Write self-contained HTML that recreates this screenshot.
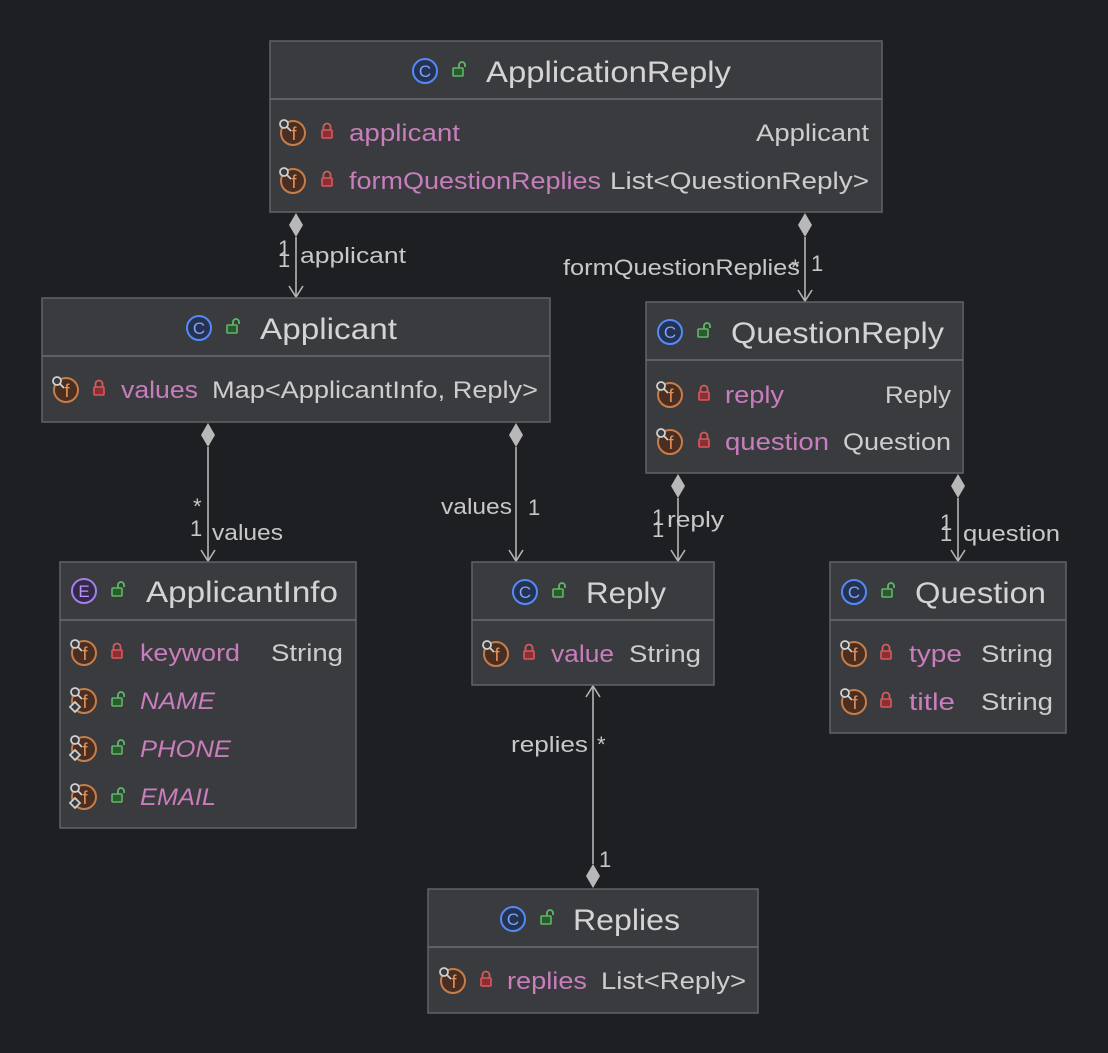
<!DOCTYPE html>
<html><head><meta charset="utf-8"><style>
html,body{margin:0;padding:0;background:#1e1f22;}
svg{display:block}
text{font-family:"Liberation Sans",sans-serif;}
.t{font-size:30px;fill:#d4d4d4}
.n{font-size:24px;fill:#c87dbd}
.i{font-style:italic}
.y{font-size:24px;fill:#cdcdcd}
.l{font-size:22px;fill:#c8c8c8}
.box{fill:#3a3b3e;stroke:#616366;stroke-width:1.5}
.div{stroke:#6a6c6f;stroke-width:1.5}
.ln{stroke:#b5b5b5;stroke-width:1.6;fill:none}
</style></head><body>
<svg width="1108" height="1053" viewBox="0 0 1108 1053" xmlns="http://www.w3.org/2000/svg">
<defs>
<g id="c"><circle r="12" fill="#253250" stroke="#548af7" stroke-width="2"/><text x="0" y="6" text-anchor="middle" font-size="17" fill="#7aa6ff" font-family="Liberation Sans">C</text></g>
<g id="e"><circle r="12" fill="#35294a" stroke="#a57ee8" stroke-width="2"/><text x="0" y="6" text-anchor="middle" font-size="17" fill="#b996f5" font-family="Liberation Sans">E</text></g>
<g id="f"><circle r="12" fill="#4a2e22" stroke="#c77d4a" stroke-width="2"/><text x="1" y="7" text-anchor="middle" font-size="18" fill="#e3955c" font-family="Liberation Sans">f</text><circle cx="-9" cy="-9" r="4" fill="#3a3b3e" stroke="#d0d0d0" stroke-width="1.8"/><line x1="-6" y1="-6" x2="-2" y2="-2" stroke="#d0d0d0" stroke-width="1.8"/></g>
<g id="fs"><use href="#f"/><path d="M-9 1 L-4 6 L-9 11 L-14 6Z" fill="#3a3b3e" stroke="#d0d0d0" stroke-width="1.8"/></g>
<g id="lr"><path d="M-3.5 -1 V-4 A3.5 3.5 0 0 1 3.5 -4 V-1" fill="none" stroke="#d9585c" stroke-width="1.8"/><rect x="-5" y="-1" width="10" height="8" rx="1" fill="#8a2f33" stroke="#d9585c" stroke-width="1.6"/></g>
<g id="lg"><path d="M1 -1 V-4 A3 3 0 0 1 7 -4 V-2" fill="none" stroke="#5fb865" stroke-width="1.8"/><rect x="-5" y="-1" width="10" height="8" rx="1" fill="#2b5a2f" stroke="#5fb865" stroke-width="1.6"/></g>
</defs>

<g class="ln">
<line x1="296" y1="237" x2="296" y2="297"/><polyline points="289,286 296,297 303,286"/>
<line x1="805" y1="237" x2="805" y2="301"/><polyline points="798,290 805,301 812,290"/>
<line x1="208" y1="447" x2="208" y2="561"/><polyline points="201,550 208,561 215,550"/>
<line x1="516" y1="447" x2="516" y2="561"/><polyline points="509,550 516,561 523,550"/>
<line x1="678" y1="498" x2="678" y2="561"/><polyline points="671,550 678,561 685,550"/>
<line x1="958" y1="498" x2="958" y2="561"/><polyline points="951,550 958,561 965,550"/>
<line x1="593" y1="686" x2="593" y2="864"/><polyline points="586,697 593,686 600,697"/>
</g>
<g fill="#b8b8b8">
<path d="M296 213 L303 225 L296 237 L289 225Z"/>
<path d="M805 213 L812 225 L805 237 L798 225Z"/>
<path d="M208 423 L215 435 L208 447 L201 435Z"/>
<path d="M516 423 L523 435 L516 447 L509 435Z"/>
<path d="M678 474 L685 486 L678 498 L671 486Z"/>
<path d="M958 474 L965 486 L958 498 L951 486Z"/>
<path d="M593 864 L600 876 L593 888 L586 876Z"/>
</g>
<g class="l" lengthAdjust="spacingAndGlyphs">
<text x="278" y="256">1</text><text x="278" y="267">1</text><text x="300" y="263" textLength="106" lengthAdjust="spacingAndGlyphs">applicant</text>
<text x="563" y="275" textLength="237" lengthAdjust="spacingAndGlyphs">formQuestionReplies</text><text x="791" y="275">*</text><text x="811" y="271">1</text>
<text x="193" y="514">*</text><text x="190" y="536">1</text><text x="212" y="540" textLength="71" lengthAdjust="spacingAndGlyphs">values</text>
<text x="441" y="514" textLength="71" lengthAdjust="spacingAndGlyphs">values</text><text x="528" y="515">1</text>
<text x="652" y="525">1</text><text x="652" y="537">1</text><text x="667" y="527" textLength="57" lengthAdjust="spacingAndGlyphs">reply</text>
<text x="940" y="530">1</text><text x="940" y="541">1</text><text x="963" y="541" textLength="97" lengthAdjust="spacingAndGlyphs">question</text>
<text x="511" y="752" textLength="77" lengthAdjust="spacingAndGlyphs">replies</text><text x="597" y="752">*</text><text x="599" y="867">1</text>
</g>

<!-- ApplicationReply -->
<rect class="box" x="270" y="41" width="612" height="171"/>
<line class="div" x1="270" y1="99" x2="882" y2="99"/>
<use href="#c" x="425" y="71"/><use href="#lg" x="458" y="69"/>
<text class="t" x="486" y="82" textLength="245" lengthAdjust="spacingAndGlyphs">ApplicationReply</text>
<use href="#f" x="293" y="133"/><use href="#lr" x="327" y="131"/>
<text class="n" x="349" y="141" textLength="111" lengthAdjust="spacingAndGlyphs">applicant</text><text class="y" x="756" y="141" textLength="113" lengthAdjust="spacingAndGlyphs">Applicant</text>
<use href="#f" x="293" y="181"/><use href="#lr" x="327" y="179"/>
<text class="n" x="349" y="189" textLength="252" lengthAdjust="spacingAndGlyphs">formQuestionReplies</text><text class="y" x="610" y="189" textLength="259" lengthAdjust="spacingAndGlyphs">List&lt;QuestionReply&gt;</text>

<!-- Applicant -->
<rect class="box" x="42" y="298" width="508" height="124"/>
<line class="div" x1="42" y1="356" x2="550" y2="356"/>
<use href="#c" x="199" y="328"/><use href="#lg" x="232" y="326"/>
<text class="t" x="260" y="339" textLength="137" lengthAdjust="spacingAndGlyphs">Applicant</text>
<use href="#f" x="66" y="390"/><use href="#lr" x="99" y="388"/>
<text class="n" x="121" y="398" textLength="77" lengthAdjust="spacingAndGlyphs">values</text><text class="y" x="212" y="398" textLength="326" lengthAdjust="spacingAndGlyphs">Map&lt;ApplicantInfo, Reply&gt;</text>

<!-- QuestionReply -->
<rect class="box" x="646" y="302" width="317" height="171"/>
<line class="div" x1="646" y1="360" x2="963" y2="360"/>
<use href="#c" x="670" y="332"/><use href="#lg" x="703" y="330"/>
<text class="t" x="731" y="343" textLength="213" lengthAdjust="spacingAndGlyphs">QuestionReply</text>
<use href="#f" x="670" y="395"/><use href="#lr" x="704" y="393"/>
<text class="n" x="725" y="403" textLength="59" lengthAdjust="spacingAndGlyphs">reply</text><text class="y" x="885" y="403" textLength="66" lengthAdjust="spacingAndGlyphs">Reply</text>
<use href="#f" x="670" y="442"/><use href="#lr" x="704" y="440"/>
<text class="n" x="725" y="450" textLength="104" lengthAdjust="spacingAndGlyphs">question</text><text class="y" x="843" y="450" textLength="108" lengthAdjust="spacingAndGlyphs">Question</text>

<!-- ApplicantInfo -->
<rect class="box" x="60" y="562" width="296" height="266"/>
<line class="div" x1="60" y1="620" x2="356" y2="620"/>
<use href="#e" x="84" y="591"/><use href="#lg" x="117" y="589"/>
<text class="t" x="146" y="602" textLength="192" lengthAdjust="spacingAndGlyphs">ApplicantInfo</text>
<use href="#f" x="84" y="653"/><use href="#lr" x="117" y="651"/>
<text class="n" x="140" y="661" textLength="100" lengthAdjust="spacingAndGlyphs">keyword</text><text class="y" x="271" y="661" textLength="72" lengthAdjust="spacingAndGlyphs">String</text>
<use href="#fs" x="84" y="701"/><use href="#lg" x="117" y="699"/>
<text class="n i" x="140" y="709" textLength="75" lengthAdjust="spacingAndGlyphs">NAME</text>
<use href="#fs" x="84" y="749"/><use href="#lg" x="117" y="747"/>
<text class="n i" x="140" y="757" textLength="91" lengthAdjust="spacingAndGlyphs">PHONE</text>
<use href="#fs" x="84" y="797"/><use href="#lg" x="117" y="795"/>
<text class="n i" x="140" y="805" textLength="76" lengthAdjust="spacingAndGlyphs">EMAIL</text>

<!-- Reply -->
<rect class="box" x="472" y="562" width="242" height="123"/>
<line class="div" x1="472" y1="620" x2="714" y2="620"/>
<use href="#c" x="525" y="592"/><use href="#lg" x="558" y="590"/>
<text class="t" x="586" y="603" textLength="80" lengthAdjust="spacingAndGlyphs">Reply</text>
<use href="#f" x="496" y="654"/><use href="#lr" x="529" y="652"/>
<text class="n" x="551" y="662" textLength="63" lengthAdjust="spacingAndGlyphs">value</text><text class="y" x="629" y="662" textLength="72" lengthAdjust="spacingAndGlyphs">String</text>

<!-- Question -->
<rect class="box" x="830" y="562" width="236" height="171"/>
<line class="div" x1="830" y1="620" x2="1066" y2="620"/>
<use href="#c" x="854" y="592"/><use href="#lg" x="887" y="590"/>
<text class="t" x="915" y="603" textLength="131" lengthAdjust="spacingAndGlyphs">Question</text>
<use href="#f" x="854" y="654"/><use href="#lr" x="886" y="652"/>
<text class="n" x="909" y="662" textLength="53" lengthAdjust="spacingAndGlyphs">type</text><text class="y" x="981" y="662" textLength="72" lengthAdjust="spacingAndGlyphs">String</text>
<use href="#f" x="854" y="702"/><use href="#lr" x="886" y="700"/>
<text class="n" x="909" y="710" textLength="46" lengthAdjust="spacingAndGlyphs">title</text><text class="y" x="981" y="710" textLength="72" lengthAdjust="spacingAndGlyphs">String</text>

<!-- Replies -->
<rect class="box" x="428" y="889" width="330" height="124"/>
<line class="div" x1="428" y1="947" x2="758" y2="947"/>
<use href="#c" x="513" y="919"/><use href="#lg" x="546" y="917"/>
<text class="t" x="573" y="930" textLength="107" lengthAdjust="spacingAndGlyphs">Replies</text>
<use href="#f" x="453" y="981"/><use href="#lr" x="486" y="979"/>
<text class="n" x="507" y="989" textLength="80" lengthAdjust="spacingAndGlyphs">replies</text><text class="y" x="601" y="989" textLength="145" lengthAdjust="spacingAndGlyphs">List&lt;Reply&gt;</text>
</svg>
</body></html>
